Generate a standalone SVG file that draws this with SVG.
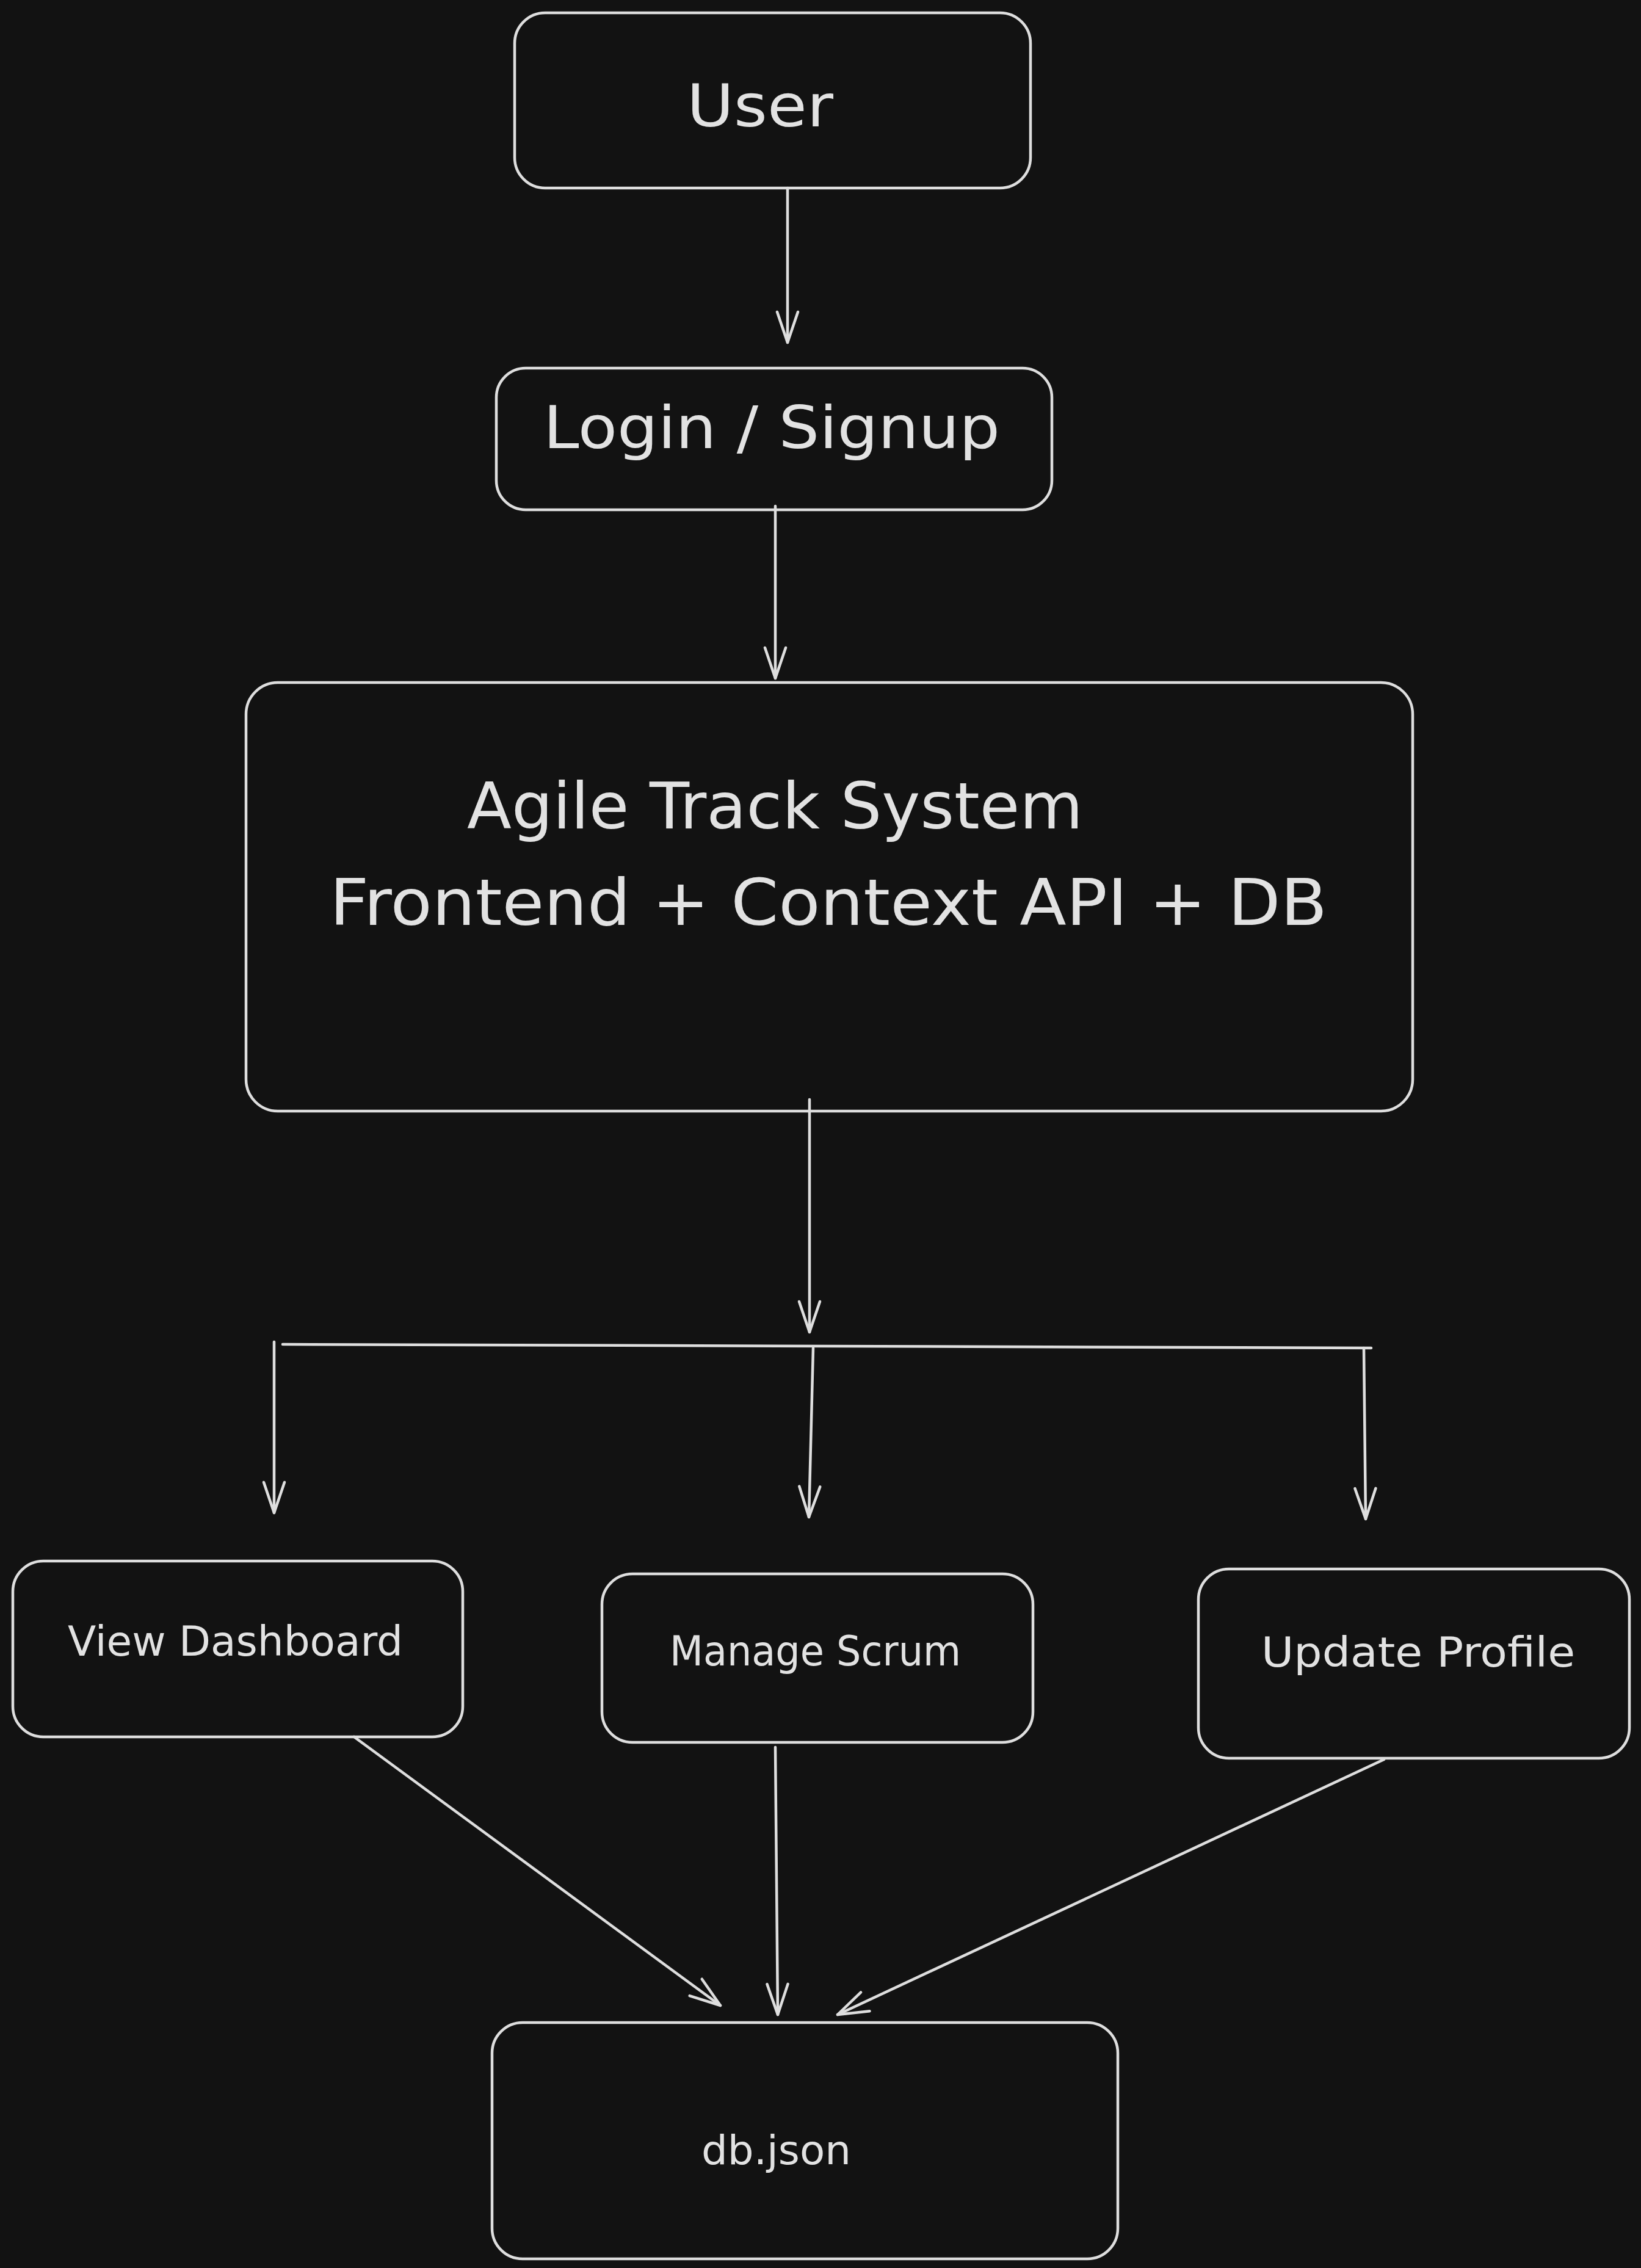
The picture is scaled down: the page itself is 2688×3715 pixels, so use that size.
<svg xmlns="http://www.w3.org/2000/svg" width="2688" height="3715" viewBox="0 0 2688 3715">
<style>
.box{fill:none;stroke:#dedede;stroke-width:4.5}
.lbl{font-family:"DejaVu Sans","Liberation Sans",sans-serif;fill:#e2e2e2}
.edge{fill:none;stroke:#dedede;stroke-width:4.5;stroke-linecap:round;stroke-linejoin:round}
</style>
<defs>
<marker id="ah" viewBox="-58 -26 64 52" refX="0" refY="0" markerWidth="64" markerHeight="52" markerUnits="userSpaceOnUse" orient="auto">
<path d="M-50,-17 L0,0 L-50,17" fill="none" stroke="#dedede" stroke-width="4.5" stroke-linecap="round" stroke-linejoin="round"/>
</marker>
</defs>
<rect width="2688" height="3715" fill="#121212"/>
<g id="connectors">
<path class="edge" d="M1290,308 L1290,561" marker-end="url(#ah)"/>
<path class="edge" d="M1270,829 L1270,1111" marker-end="url(#ah)"/>
<path class="edge" d="M1326,1801 L1326,2182" marker-end="url(#ah)"/>
<path class="edge" d="M463,2202 L2246,2208"/>
<path class="edge" d="M449,2198 L449,2478" marker-end="url(#ah)"/>
<path class="edge" d="M1332,2208 L1325,2485" marker-end="url(#ah)"/>
<path class="edge" d="M2234,2208 L2237,2488" marker-end="url(#ah)"/>
<path class="edge" d="M580,2845 L1180,3285" marker-end="url(#ah)"/>
<path class="edge" d="M1270,2862 L1274,3300" marker-end="url(#ah)"/>
<path class="edge" d="M2267,2882 L1372,3300" marker-end="url(#ah)"/>
</g>
<g id="user">
<rect class="box" x="843" y="21" width="845" height="287" rx="50"/>
<text class="lbl" x="1125" y="207" font-size="96" textLength="240" lengthAdjust="spacingAndGlyphs">User</text>
</g>
<g id="login">
<rect class="box" x="813" y="603" width="910" height="232" rx="48"/>
<text class="lbl" x="890" y="734" font-size="96" textLength="748" lengthAdjust="spacingAndGlyphs">Login / Signup</text>
</g>
<g id="system">
<rect class="box" x="403" y="1118" width="1911" height="702" rx="52"/>
<text class="lbl" x="765" y="1357" font-size="106" textLength="1009" lengthAdjust="spacingAndGlyphs">Agile Track System</text>
<text class="lbl" x="540" y="1515" font-size="106" textLength="1634" lengthAdjust="spacingAndGlyphs">Frontend + Context API + DB</text>
</g>
<g id="dashboard">
<rect class="box" x="21" y="2557" width="737" height="288" rx="50"/>
<text class="lbl" x="111" y="2712" font-size="68" textLength="549" lengthAdjust="spacingAndGlyphs">View Dashboard</text>
</g>
<g id="scrum">
<rect class="box" x="986" y="2578" width="706" height="276" rx="50"/>
<text class="lbl" x="1097" y="2728" font-size="68" textLength="477" lengthAdjust="spacingAndGlyphs">Manage Scrum</text>
</g>
<g id="profile">
<rect class="box" x="1963" y="2570" width="706" height="310" rx="50"/>
<text class="lbl" x="2066" y="2730" font-size="68" textLength="514" lengthAdjust="spacingAndGlyphs">Update Profile</text>
</g>
<g id="db">
<rect class="box" x="806" y="3313" width="1025" height="387" rx="50"/>
<text class="lbl" x="1149" y="3545" font-size="66" textLength="245" lengthAdjust="spacingAndGlyphs">db.json</text>
</g>
</svg>
